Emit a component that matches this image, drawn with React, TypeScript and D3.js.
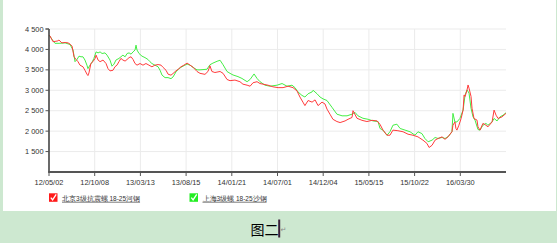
import React from "react";
import * as d3 from "d3";

// week index (0..230) and price for each series
const beijing: [number, number][] = [
  [0, 4350], [0.5, 4330], [2, 4190], [3.5, 4200], [4.5, 4210], [5, 4230], [6.5, 4160], [8.1, 4170], [9.6, 4160], [10.6, 4130],
  [11.6, 4080], [12.6, 3820], [13.6, 3755], [14.6, 3700], [15.6, 3615], [17.1, 3575], [18.1, 3490], [19.1, 3395], [19.6, 3360], [20.1, 3425],
  [21.1, 3660], [22.1, 3700], [23.2, 3780], [23.7, 3860], [24.7, 3740], [25.7, 3700], [27.2, 3740], [28.7, 3655], [29.7, 3530], [30.7, 3475],
  [32.2, 3490], [33.2, 3575], [34.2, 3615], [35.2, 3700], [36.2, 3780], [37.2, 3740], [38.3, 3715], [39.3, 3755], [40.3, 3800], [41.3, 3820],
  [42.3, 3755], [43.3, 3655], [44.3, 3615], [45.8, 3655], [47.3, 3615], [48.8, 3655], [50.3, 3615], [51.8, 3575], [53.3, 3615], [54.9, 3630],
  [56.4, 3615], [57.4, 3560], [58.9, 3490], [59.9, 3395], [61.4, 3370], [62.4, 3410], [63.9, 3475], [65.4, 3530], [66.4, 3575], [67.9, 3615],
  [69.5, 3665], [71, 3615], [72.5, 3565], [74.5, 3460], [76, 3415], [78.5, 3390], [80, 3460], [81, 3600], [82, 3460], [83.5, 3435],
  [86.1, 3460], [87.6, 3415], [89.6, 3265], [91.1, 3235], [93.6, 3250], [96.1, 3210], [97.6, 3150], [99.7, 3125], [101.2, 3100], [102.7, 3185],
  [104.7, 3210], [106.2, 3165], [107.7, 3150], [110.2, 3125], [112.7, 3085], [115.3, 3065], [117.8, 3065], [120.3, 3100], [122.8, 3065], [124.8, 2985],
  [126.3, 2835], [127.8, 2710], [128.8, 2625], [130.4, 2750], [132.4, 2710], [133.9, 2765], [135.4, 2625], [137.4, 2710], [138.9, 2665], [139.9, 2540],
  [141.4, 2415], [142.9, 2290], [144.9, 2235], [146.5, 2210], [149, 2250], [150.5, 2290], [152.5, 2335], [153, 2500], [155, 2315], [157.5, 2265],
  [160, 2235], [162.6, 2265], [165.1, 2250], [166.6, 2165], [168.1, 2025], [170.1, 1900], [171.6, 1900], [173.1, 2025], [175.6, 2010], [178.2, 1985],
  [180.7, 1925], [183.2, 1900], [185.7, 1860], [188.2, 1780], [190.2, 1700], [191.3, 1600], [192.8, 1655], [194.3, 1780], [195.8, 1820], [197.8, 1860],
  [199.3, 1800], [200.8, 1860], [202.8, 1985], [203.3, 2145], [204.3, 2225], [204.8, 2065], [205.3, 2025], [206.3, 2145], [207.4, 2310], [208.4, 2515],
  [208.9, 2885], [209.4, 2850], [210.4, 3010], [210.9, 3130], [211.4, 3050], [212.4, 2850], [212.9, 2560], [213.9, 2310], [215.4, 2270], [215.9, 2105],
  [216.9, 2025], [218.4, 2190], [219.9, 2145], [220.9, 2105], [223, 2225], [224, 2515], [225, 2390], [226, 2310], [228, 2350], [230, 2435],
];

const shanghai: [number, number][] = [
  [0, 4350], [1.5, 4250], [3, 4150], [5.5, 4150], [8.1, 4160], [10.6, 4120], [12.1, 3985], [13.1, 3700], [14.1, 3755], [15.1, 3835],
  [16.1, 3820], [17.1, 3820], [18.1, 3740], [19.1, 3615], [19.6, 3530], [20.6, 3615], [21.6, 3680], [22.6, 3780], [23.7, 3940], [24.7, 3915],
  [25.7, 3940], [26.7, 3900], [28.2, 3915], [29.2, 3860], [30.7, 3740], [31.7, 3590], [32.7, 3640], [33.7, 3740], [35.2, 3780], [36.2, 3820],
  [37.2, 3860], [38.3, 3820], [39.3, 3900], [40.3, 3915], [41.3, 3885], [42.3, 3940], [43.3, 3985], [43.8, 4105], [44.3, 3985], [45.3, 3900],
  [46.8, 3835], [48.3, 3800], [49.8, 3755], [50.8, 3700], [51.8, 3655], [53.3, 3615], [54.9, 3575], [55.9, 3490], [56.9, 3370], [58.4, 3310],
  [59.9, 3310], [61.4, 3285], [62.4, 3325], [63.9, 3450], [65.4, 3530], [66.9, 3575], [68.4, 3615], [69.5, 3640], [71, 3615], [72.5, 3560],
  [74.5, 3500], [76, 3500], [79.5, 3515], [81, 3625], [82.5, 3665], [84.6, 3710], [86.1, 3735], [87.6, 3625], [89.6, 3460], [91.1, 3415],
  [92.6, 3375], [95.1, 3335], [97.1, 3290], [99.7, 3210], [101.2, 3265], [103.2, 3400], [104.7, 3290], [106.2, 3210], [108.7, 3125], [111.2, 3100],
  [114.8, 3125], [117.3, 3165], [119.8, 3100], [122.3, 3125], [123.8, 3065], [125.3, 2960], [127.3, 2875], [128.8, 2835], [130.4, 2915], [132.4, 2960],
  [132.9, 3000], [134.9, 2915], [136.4, 2835], [137.9, 2790], [139.9, 2750], [142.4, 2585], [144.9, 2415], [147.5, 2375], [150, 2375], [152.5, 2415],
  [154, 2460], [155.5, 2375], [158, 2315], [160.6, 2290], [163.1, 2250], [165.6, 2235], [166.6, 2065], [168.1, 2025], [170.1, 1900], [171.6, 1985],
  [173.1, 2145], [175.1, 2170], [176.7, 2065], [179.2, 2025], [181.7, 1985], [184.2, 1900], [185.7, 1985], [187.7, 1940], [189.2, 1820], [190.8, 1740],
  [192.8, 1780], [194.3, 1845], [195.8, 1820], [197.8, 1845], [199.3, 1820], [200.8, 1860], [202.8, 1985], [203.3, 2435], [204.3, 2225], [205.3, 2225],
  [206.8, 2310], [208.4, 2515], [209.4, 2885], [210.4, 3010], [211.4, 2930], [212.4, 2560], [213.4, 2350], [214.4, 2270], [215.9, 2040], [216.9, 2025],
  [218.4, 2145], [219.9, 2190], [220.9, 2145], [223, 2225], [224, 2310], [225.5, 2250], [227, 2350], [228.5, 2390], [230, 2450],
];

const xTickLabels = ["12/05/02", "12/10/08", "13/03/13", "13/08/15", "14/01/21", "14/07/01", "14/12/04", "15/05/15", "15/10/22", "16/03/30"];
const xTickStep = 23;
const yTicks = [1500, 2000, 2500, 3000, 3500, 4000, 4500];
const seriesNames = ["北京3级抗震螺 18-25河钢", "上海3级螺 18-25沙钢"];
const caption = "图二";

const W = 557;
const H = 243;

export default function App() {
  const x = d3.scaleLinear().domain([0, 230]).range([49, 506]);
  const y = d3.scaleLinear().domain([1000, 4500]).range([172, 29]);
  const line = d3
    .line<[number, number]>()
    .x((d) => x(d[0]))
    .y((d) => y(d[1]));
  const fmt = (v: number) => d3.format(",")(v).replace(/,/g, " ");
  const font = "'Liberation Sans', Arial, sans-serif";
  const legend = [
    { name: seriesNames[0], color: "#ff1a1a", bx: 49, tx: 62 },
    { name: seriesNames[1], color: "#22ee22", bx: 189.5, tx: 202.5 },
  ];

  return (
    <svg
      width={W}
      height={H}
      style={{ position: "fixed", left: 0, top: 0, display: "block" }}
      fontFamily={font}
    >
      <rect x={0} y={0} width={W} height={H} fill="#cde8d0" />
      <rect x={3} y={0} width={553} height={211} fill="#ffffff" />

      {/* grid */}
      {yTicks.map((t) => (
        <line key={"gy" + t} x1={49} x2={506} y1={y(t)} y2={y(t)} stroke="#ebebeb" strokeWidth={1} />
      ))}
      {xTickLabels.map((l, i) =>
        i === 0 ? null : (
          <line key={"gx" + l} x1={x(i * xTickStep)} x2={x(i * xTickStep)} y1={29} y2={172} stroke="#ebebeb" strokeWidth={1} />
        )
      )}

      {/* series */}
      <path d={line(shanghai) || ""} fill="none" stroke="#44ee44" strokeWidth={1} strokeLinejoin="round" />
      <path d={line(beijing) || ""} fill="none" stroke="#ff3b3b" strokeWidth={1} strokeLinejoin="round" />

      {/* y axis */}
      <line x1={49} x2={49} y1={29} y2={172.5} stroke="#444" strokeWidth={1.6} />
      {yTicks.map((t) => (
        <g key={"yt" + t}>
          <line x1={45.5} x2={49} y1={y(t)} y2={y(t)} stroke="#555" strokeWidth={1} />
          <text x={43.5} y={y(t) + 2.6} fontSize={7.4} fill="#333" textAnchor="end">
            {fmt(t)}
          </text>
        </g>
      ))}
      <line x1={45.5} x2={49} y1={29} y2={29} stroke="#555" strokeWidth={1} />

      {/* x axis */}
      <line x1={48.2} x2={506} y1={172} y2={172} stroke="#555" strokeWidth={1.8} />
      {xTickLabels.map((l, i) => (
        <g key={"xt" + l}>
          <line x1={x(i * xTickStep)} x2={x(i * xTickStep)} y1={172} y2={176} stroke="#555" strokeWidth={1} />
          <text x={x(i * xTickStep)} y={184.5} fontSize={7.4} fill="#333" textAnchor="middle">
            {l}
          </text>
        </g>
      ))}

      {/* legend */}
      {legend.map((g) => (
        <g key={g.name}>
          <rect x={g.bx} y={193.3} width={8.5} height={8.5} fill={g.color} />
          <path
            d={`M${g.bx + 1.8},${197.6} L${g.bx + 3.6},${199.8} L${g.bx + 7.2},${194.3}`}
            fill="none"
            stroke="#fff"
            strokeWidth={1.3}
          />
          <text x={g.tx} y={200.8} fontSize={6.5} fill="#333" textDecoration="underline">
            {g.name}
          </text>
        </g>
      ))}

      {/* caption */}
      <text x={250.5} y={234.5} fontSize={14} fill="#000" fontFamily="'Noto Sans CJK SC', sans-serif">
        {caption}
      </text>
      <rect x={278.2} y={219.5} width={2} height={18} fill="#3a1f3a" />
      <text x={280.5} y={231.5} fontSize={7} fill="#888" fontFamily="'DejaVu Sans', sans-serif">
        ↵
      </text>
    </svg>
  );
}
